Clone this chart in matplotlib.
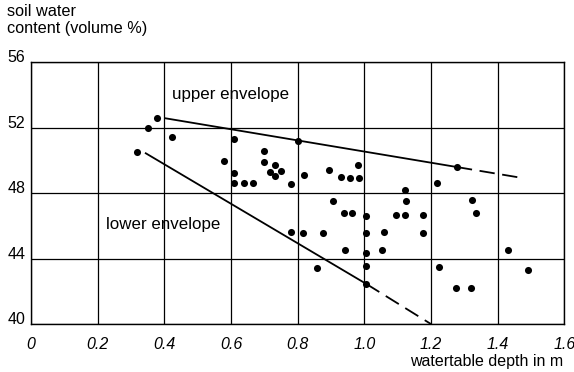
import matplotlib
matplotlib.use('Agg')
import matplotlib.pyplot as plt

plt.rcParams['font.family'] = ['Liberation Sans', 'DejaVu Sans']

# measured points: watertable depth (m) and soil water content (volume %)
depth = [0.317, 0.352, 0.379, 0.422, 0.580, 0.609, 0.609, 0.609, 0.638, 0.666,
         0.698, 0.698, 0.717, 0.732, 0.732, 0.749, 0.779, 0.779, 0.800, 0.815,
         0.820, 0.857, 0.875, 0.893, 0.905, 0.929, 0.938, 0.943, 0.956, 0.963,
         0.981, 0.983, 1.006, 1.006, 1.006, 1.006, 1.006, 1.053, 1.058, 1.095,
         1.123, 1.123, 1.125, 1.175, 1.175, 1.219, 1.223, 1.275, 1.278, 1.321,
         1.323, 1.335, 1.430, 1.491]
water = [50.50, 52.00, 52.56, 51.40, 49.98, 51.29, 49.25, 48.61, 48.61, 48.61,
         50.56, 49.92, 49.29, 49.71, 49.05, 49.35, 48.58, 45.60, 51.19, 45.55,
         49.11, 43.42, 45.55, 49.39, 47.50, 48.99, 46.78, 44.50, 48.95, 46.78,
         49.72, 48.91, 46.60, 45.58, 44.36, 43.53, 42.45, 44.50, 45.60, 46.65,
         48.20, 46.65, 47.54, 46.65, 45.55, 48.60, 43.46, 42.17, 49.59, 42.17,
         47.60, 46.78, 44.55, 43.31]

# envelopes: solid part then dashed extension
upper_x = [0.40, 1.278]
upper_y = [52.58, 49.59]
upper_ext_x = [1.278, 1.463]
upper_ext_y = [49.59, 48.96]
lower_x = [0.342, 1.006]
lower_y = [50.46, 42.45]
lower_ext_x = [1.006, 1.20]
lower_ext_y = [42.45, 40.0]

xticks = [0, 0.2, 0.4, 0.6, 0.8, 1.0, 1.2, 1.4, 1.6]
xticklabels = ['0', '0.2', '0.4', '0.6', '0.8', '1.0', '1.2', '1.4', '1.6']
yticks = [40, 44, 48, 52, 56]

fig = plt.figure(figsize=(5.74, 3.72), dpi=100)
ax = fig.add_axes([0.054, 0.129, 0.929, 0.704])

ax.plot(upper_x, upper_y, color='black', lw=1.3, solid_capstyle='butt')
ax.plot(upper_ext_x, upper_ext_y, color='black', lw=1.3, dashes=(8.5, 4.2))
ax.plot(lower_x, lower_y, color='black', lw=1.3, solid_capstyle='butt')
ax.plot(lower_ext_x, lower_ext_y, color='black', lw=1.3, dashes=(8.5, 4.2))
ax.scatter(depth, water, s=26, color='black', zorder=3, linewidths=0)

ax.set_xlim(0, 1.6)
ax.set_ylim(40, 56)
ax.set_xticks(xticks)
ax.set_xticklabels(xticklabels, fontstyle='italic', fontsize=11.5)
ax.set_yticks(yticks)
ax.set_yticklabels([str(v) for v in yticks], fontsize=11.5)
for lab in ax.get_yticklabels():
    lab.set_va('baseline')
ax.tick_params(axis='both', length=0)
ax.tick_params(axis='x', pad=9)
ax.tick_params(axis='y', pad=4)
ax.grid(True, color='black', lw=0.9)
ax.set_axisbelow(True)
for sp in ax.spines.values():
    sp.set_linewidth(1.0)

ax.text(0.60, 54.0, 'upper envelope', ha='center', va='center', fontsize=12.2)
ax.text(0.397, 46.08, 'lower envelope', ha='center', va='center', fontsize=12.2)

fig.text(0.012, 0.988, 'soil water\ncontent (volume %)', ha='left', va='top',
         fontsize=11.7, linespacing=1.12)
fig.text(0.981, 0.027, 'watertable depth in m', ha='right', va='center',
         fontsize=11.5)

fig.savefig('out.png', dpi=100)
